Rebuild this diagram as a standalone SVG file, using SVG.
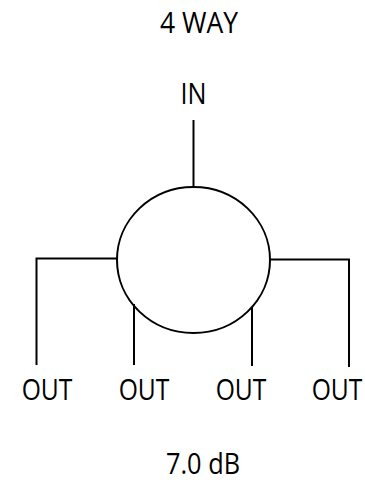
<svg xmlns="http://www.w3.org/2000/svg" width="365" height="483" viewBox="0 0 365 483">
<style>
text{font-family:"Open Sans","Noto Sans",sans-serif;font-size:29px;fill:#000;text-anchor:middle}
.l{fill:none;stroke:#000;stroke-width:2}
</style>
<rect width="365" height="483" fill="#fff"/>
<g id="connectors">
<path class="l" d="M193.500 120V188"/>
<path class="l" d="M117 258.500H36.500V365"/>
<path class="l" d="M134 304V365"/>
<path class="l" d="M252 307V366"/>
<path class="l" d="M270 259.500H349V367"/>
</g>
<g id="splitter"><ellipse class="l" cx="193.500" cy="260" rx="76.500" ry="73"/></g>
<g id="title"><text x="199" y="33" textLength="78" lengthAdjust="spacingAndGlyphs">4 WAY</text></g>
<g id="in"><text x="193.500" y="104" textLength="26" lengthAdjust="spacingAndGlyphs">IN</text></g>
<g id="out1"><text transform="translate(47 400) scale(.85 1)">OUT</text></g>
<g id="out2"><text transform="translate(144 400) scale(.85 1)">OUT</text></g>
<g id="out3"><text transform="translate(241 400) scale(.85 1)">OUT</text></g>
<g id="out4"><text transform="translate(337 400) scale(.85 1)">OUT</text></g>
<g id="loss"><text x="203" y="474" textLength="74" lengthAdjust="spacingAndGlyphs">7.0 dB</text></g>
</svg>
